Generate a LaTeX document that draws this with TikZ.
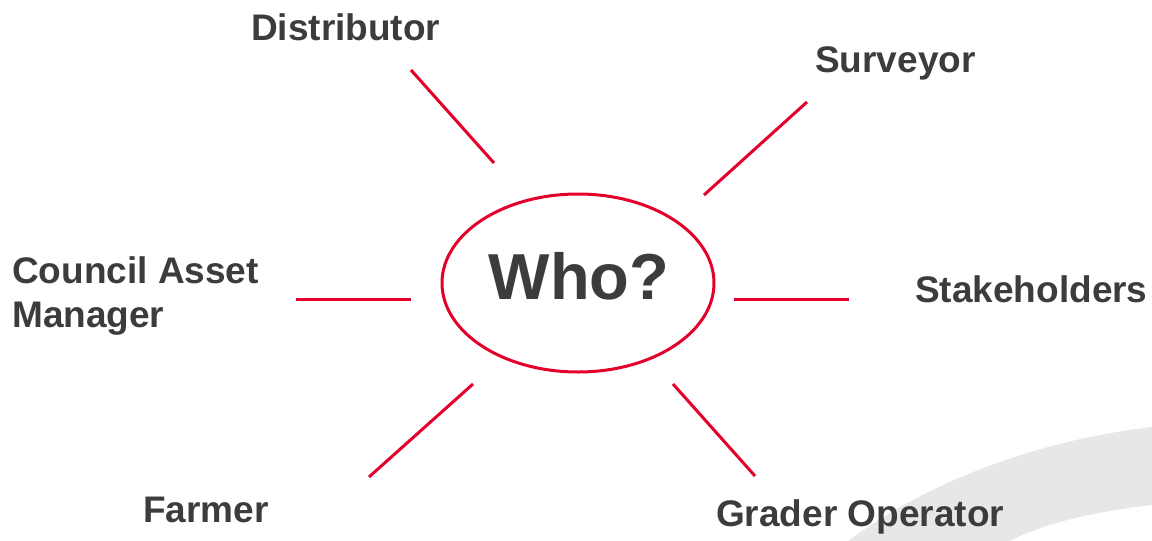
\documentclass[tikz,border=0pt]{standalone}
\usepackage{fontspec}
\setmainfont{Liberation Sans}
\definecolor{txtgray}{HTML}{3C3C3C}
\definecolor{linered}{HTML}{E4002B}
\definecolor{swoosh}{HTML}{E6E7E9}
\begin{document}
\begin{tikzpicture}[x=1pt,y=-1pt,
  lbl/.style={font=\fontsize{37}{44}\selectfont\bfseries, text=txtgray, inner sep=0pt, anchor=base west},
  spoke/.style={draw=linered, line width=3pt}]
\useasboundingbox (0,0) rectangle (1152,541);
% background swoosh
\fill[swoosh] (848,541) .. controls (930,480) and (1040,440) .. (1152,427)
  -- (1152,505) .. controls (1090,512) and (1040,525) .. (1010,541) -- cycle;
% centre
\draw[linered, line width=3pt] (578,283) ellipse [x radius=136pt, y radius=89pt];
\node[font=\fontsize{65}{70}\selectfont\bfseries, text=txtgray, inner sep=0pt, anchor=base] (who) at (579,299) {Who?};
% labels
\node[lbl] (dist) at (251,40) {Distributor};
\node[lbl] (surv) at (815,72) {Surveyor};
\node[lbl] (stake) at (915,302) {Stakeholders};
\node[lbl] (farm) at (143,522) {Farmer};
\node[lbl] (grad) at (716,526) {Grader Operator};
\node[lbl, align=left, anchor=base west] (coun) at (12,327) {Council Asset\\Manager};
% spoke endpoints
\coordinate (d1) at (411,70);  \coordinate (d2) at (494,163);
\coordinate (s1) at (807,102); \coordinate (s2) at (704,195);
\coordinate (l1) at (296,299); \coordinate (l2) at (411,299);
\coordinate (r1) at (734,299); \coordinate (r2) at (849,299);
\coordinate (f1) at (473,384); \coordinate (f2) at (369,477);
\coordinate (g1) at (673,384); \coordinate (g2) at (755,476);
\draw[spoke] (d1) -- (d2);
\draw[spoke] (s1) -- (s2);
\draw[spoke] (l1) -- (l2);
\draw[spoke] (r1) -- (r2);
\draw[spoke] (f1) -- (f2);
\draw[spoke] (g1) -- (g2);
\end{tikzpicture}
\end{document}
